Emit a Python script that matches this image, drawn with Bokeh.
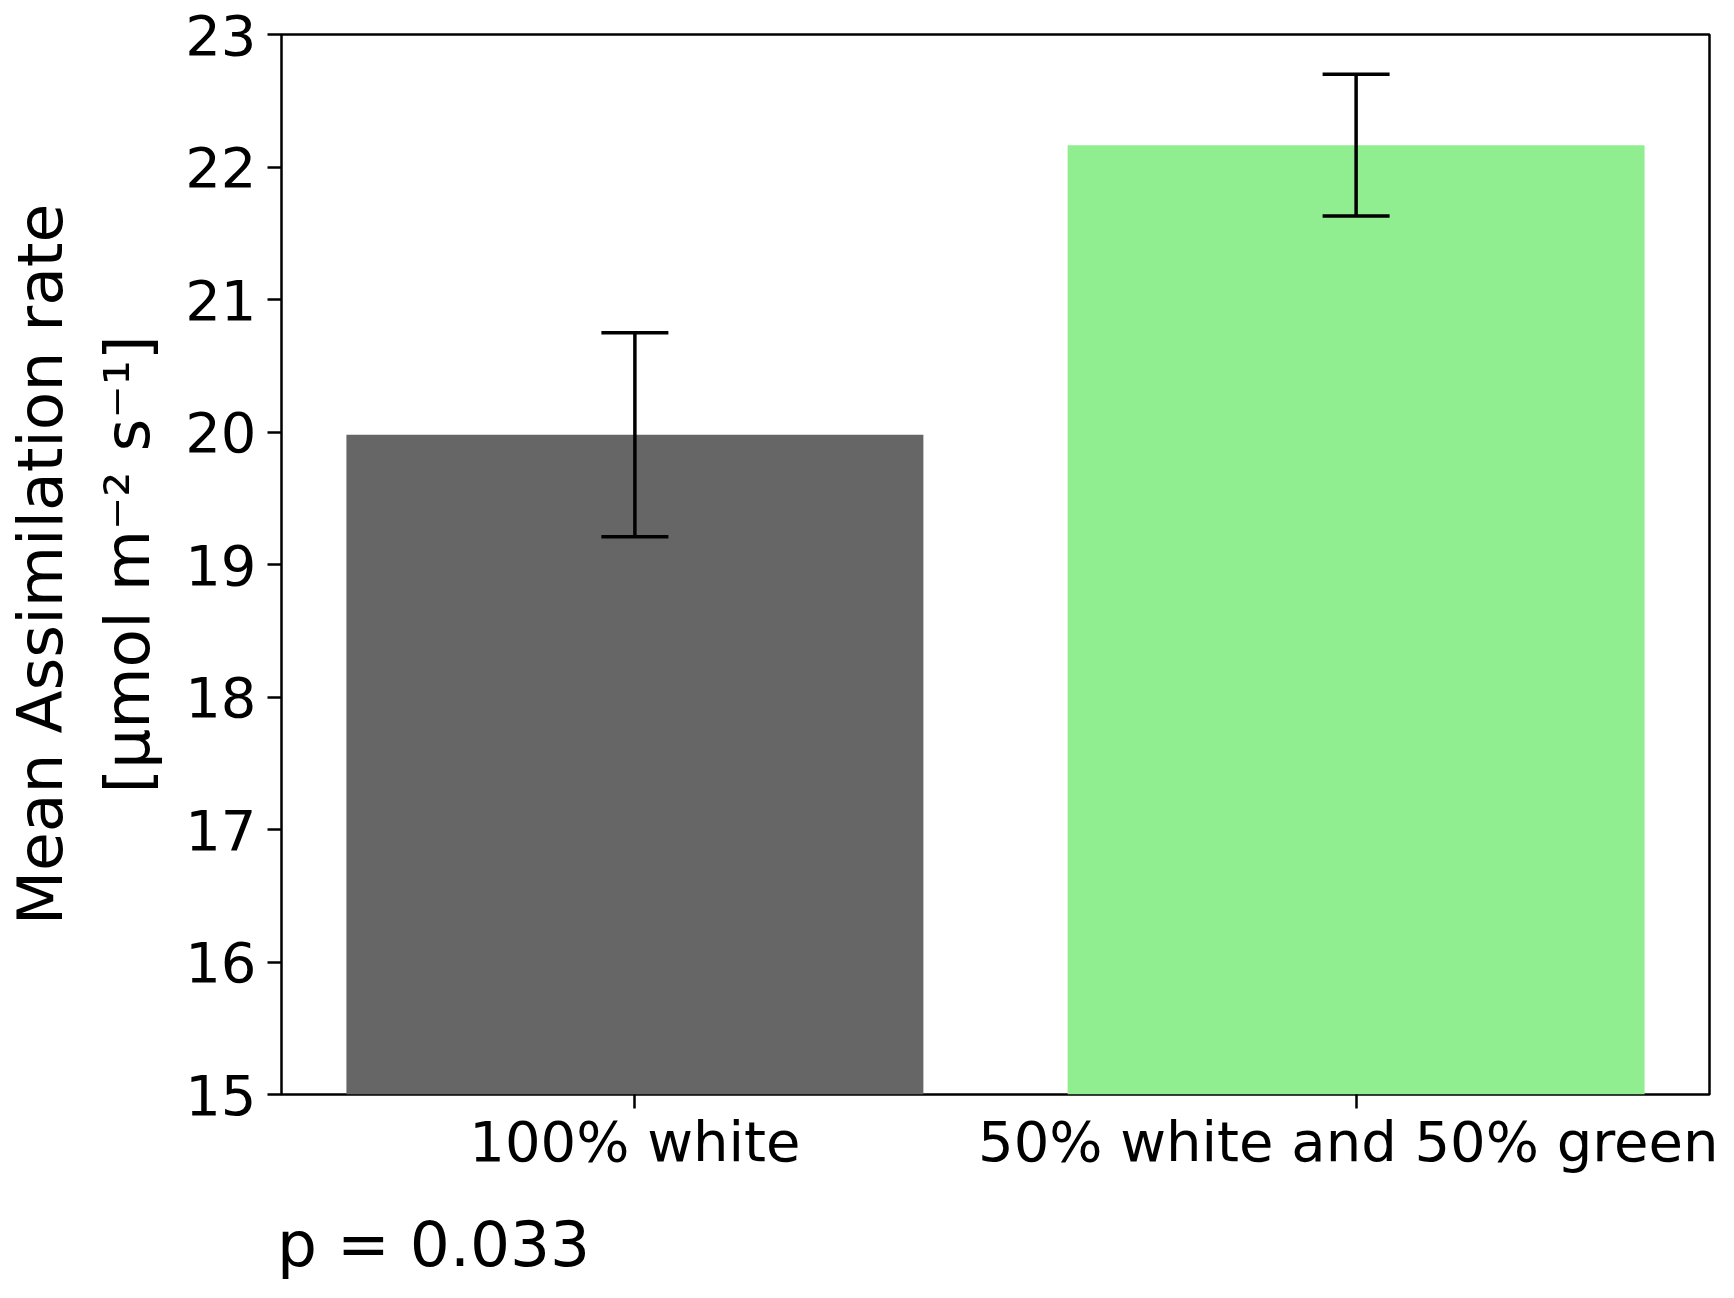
from bokeh.plotting import figure
from bokeh.models import ColumnDataSource, Whisker, TeeHead, FixedTicker, Range1d, Div
from bokeh.layouts import column
from bokeh.embed import file_html
from bokeh.resources import INLINE

categories = ["100% white", "50% white and 50% green"]
means = [19.98, 22.165]
errors = [0.77, 0.535]
colors = ["#666666", "#90EE90"]
y_ticks = [15, 16, 17, 18, 19, 20, 21, 22, 23]
p_text = "p = 0.033"

xs = list(range(len(categories)))
src = ColumnDataSource(dict(
    x=xs, top=means, color=colors,
    upper=[m + e for m, e in zip(means, errors)],
    lower=[m - e for m, e in zip(means, errors)],
))

p = figure(width=1718, height=1190, output_backend="svg", toolbar_location=None,
           x_range=Range1d(-0.49, 1.49), y_range=Range1d(15, 23),
           min_border_left=275, min_border_right=9, min_border_top=34, min_border_bottom=96)

p.vbar(x="x", top="top", bottom=0, width=0.8, color="color", line_color=None, source=src)

w = Whisker(base="x", upper="upper", lower="lower", source=src, level="overlay",
            line_color="black", line_width=3.5,
            upper_head=TeeHead(size=67, line_width=3.5, line_color="black"),
            lower_head=TeeHead(size=67, line_width=3.5, line_color="black"))
p.add_layout(w)

p.grid.visible = False
p.outline_line_color = "black"
p.outline_line_width = 2.5
p.background_fill_color = "white"
p.border_fill_color = "white"

for ax in (p.xaxis[0], p.yaxis[0]):
    ax.axis_line_color = None
    ax.major_tick_line_color = "black"
    ax.major_tick_line_width = 2.5
    ax.major_tick_out = 14
    ax.major_tick_in = 0
    ax.minor_tick_line_color = None
    ax.major_label_text_font = "DejaVu Sans"
    ax.major_label_text_font_size = "56px"
    ax.major_label_text_color = "black"

p.xaxis.ticker = FixedTicker(ticks=xs)
p.xaxis.major_label_overrides = {i: c for i, c in zip(xs, categories)}
p.xaxis.major_label_standoff = 0

p.yaxis.ticker = FixedTicker(ticks=y_ticks)
p.yaxis.major_label_standoff = 11
p.yaxis.axis_label = "Mean Assimilation rate\n[\u03bcmol m\u207b\u00b2 s\u207b\u00b9]"
p.yaxis.axis_label_text_font = "DejaVu Sans"
p.yaxis.axis_label_text_font_size = "63px"
p.yaxis.axis_label_text_font_style = "normal"
p.yaxis.axis_label_text_color = "black"
p.yaxis.axis_label_standoff = 18

note = Div(text=p_text, width=1718, height=92,
           styles={"font-family": "DejaVu Sans", "font-size": "63px",
                   "line-height": "72px", "color": "black",
                   "padding-top": "14px", "padding-left": "272px",
                   "box-sizing": "border-box", "background-color": "white",
                   "white-space": "nowrap"})

layout = column(p, note, spacing=0)

open("out.html", "w").write(file_html(layout, INLINE))
